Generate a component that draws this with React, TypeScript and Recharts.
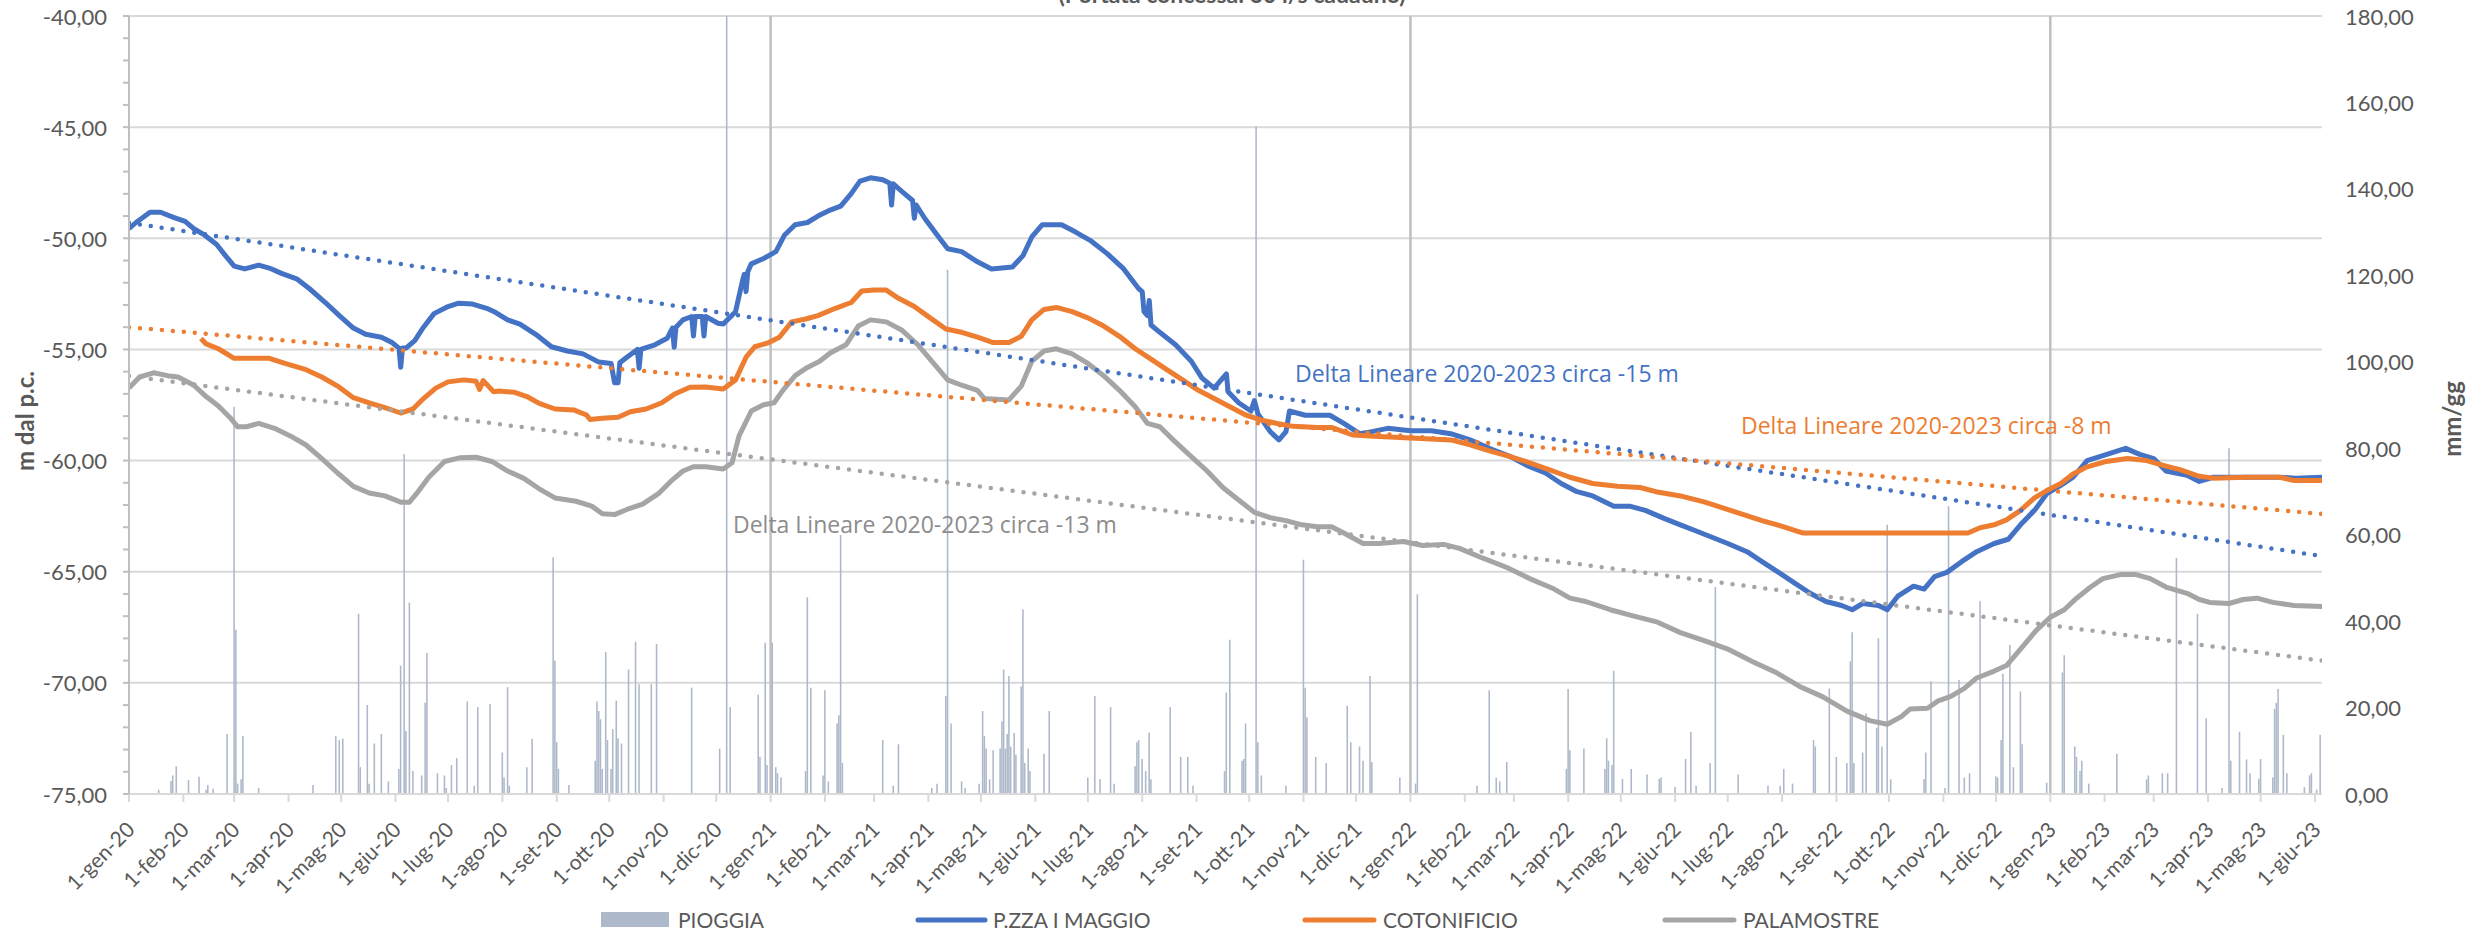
import React from 'react';
import { ComposedChart, Bar, Line, XAxis, YAxis, CartesianGrid } from 'recharts';

const W = 2471;
const H = 933;
const FONT = 'Lato, sans-serif';
const NOTE_FONT = '"Open Sans", sans-serif';
const TEXT = '#595959';

// x = days since 1-gen-20
const monthDays = [
  0, 31, 60, 91, 121, 152, 182, 213, 244, 274, 305, 335,
  366, 397, 425, 456, 486, 517, 547, 578, 609, 639, 670, 700,
  731, 762, 790, 821, 851, 882, 912, 943, 974, 1004, 1035, 1065,
  1096, 1127, 1155, 1186, 1216, 1247,
];
const monthLabels = [
  '1-gen-20', '1-feb-20', '1-mar-20', '1-apr-20', '1-mag-20', '1-giu-20', '1-lug-20', '1-ago-20', '1-set-20', '1-ott-20', '1-nov-20', '1-dic-20',
  '1-gen-21', '1-feb-21', '1-mar-21', '1-apr-21', '1-mag-21', '1-giu-21', '1-lug-21', '1-ago-21', '1-set-21', '1-ott-21', '1-nov-21', '1-dic-21',
  '1-gen-22', '1-feb-22', '1-mar-22', '1-apr-22', '1-mag-22', '1-giu-22', '1-lug-22', '1-ago-22', '1-set-22', '1-ott-22', '1-nov-22', '1-dic-22',
  '1-gen-23', '1-feb-23', '1-mar-23', '1-apr-23', '1-mag-23', '1-giu-23',
];
const yearDays = [366, 731, 1096];
const lastDay = 1251;

const leftTicks = [
  -75, -74, -73, -72, -71, -70, -69, -68, -67, -66, -65, -64, -63, -62, -61, -60, -59, -58,
  -57, -56, -55, -54, -53, -52, -51, -50, -49, -48, -47, -46, -45, -44, -43, -42, -41, -40,
];
const leftMajor = [-75, -70, -65, -60, -55, -50, -45, -40];
const rightTicks = [0, 20, 40, 60, 80, 100, 120, 140, 160, 180];

// [day, m dal p.c.]
const pzMaggio: [number, number][] = [
  [0, -49.57], [4, -49.29], [12, -48.83], [18, -48.83], [25, -49.05], [32, -49.24], [37, -49.57], [43, -49.85],
  [50, -50.28], [55, -50.78], [60, -51.25], [66, -51.38], [74, -51.21], [80, -51.34], [87, -51.58], [96, -51.84],
  [103, -52.27], [112, -52.89], [120, -53.48], [128, -54.04], [135, -54.32], [144, -54.45], [150, -54.69],
  [154, -54.94], [155, -55.8], [156, -54.94], [158, -54.94], [163, -54.6], [168, -54.0], [174, -53.39],
  [182, -53.07], [188, -52.92], [196, -52.96], [204, -53.15], [209, -53.33], [216, -53.67], [223, -53.86],
  [232, -54.32], [241, -54.88], [250, -55.07], [259, -55.2], [268, -55.57], [275, -55.63], [277, -56.5],
  [279, -56.5], [280, -55.6], [284, -55.35], [290, -55.0], [291, -55.85], [292, -55.0], [300, -54.79],
  [307, -54.5], [310, -54.04], [311, -54.9], [312, -54.0], [316, -53.67], [321, -53.52], [322, -54.4],
  [323, -53.52], [327, -53.52], [328, -54.4], [329, -53.52], [336, -53.82], [339, -53.86], [346, -53.3],
  [350, -51.9], [351, -51.62], [352, -52.4], [353, -51.5], [355, -51.15], [362, -50.91], [369, -50.6],
  [374, -49.85], [380, -49.39], [387, -49.29], [393, -49.0], [400, -48.73], [406, -48.55], [412, -47.99],
  [417, -47.43], [423, -47.28], [430, -47.37], [434, -47.52], [435, -48.5], [436, -47.55], [441, -47.9],
  [447, -48.3], [448, -49.1], [449, -48.5], [454, -49.11], [461, -49.85], [467, -50.47], [475, -50.6],
  [484, -51.06], [492, -51.38], [504, -51.29], [510, -50.78], [515, -49.94], [521, -49.39], [532, -49.39],
  [540, -49.72], [549, -50.13], [558, -50.69], [567, -51.34], [576, -52.27], [578, -52.4], [579, -53.3],
  [581, -53.48], [582, -52.8], [583, -53.9], [588, -54.23], [597, -54.79], [606, -55.53], [612, -56.28],
  [619, -56.74], [626, -56.1], [627, -56.9], [633, -57.4], [640, -57.77], [642, -57.3], [644, -57.9],
  [651, -58.7], [656, -59.07], [660, -58.7], [662, -57.77], [671, -57.96], [678, -57.96], [685, -57.96],
  [693, -58.33], [702, -58.79], [709, -58.7], [718, -58.55], [731, -58.66], [743, -58.66], [754, -58.79],
  [765, -59.07], [777, -59.48], [788, -59.82], [799, -60.28], [808, -60.56], [817, -61.03], [826, -61.4],
  [835, -61.59], [847, -62.05], [856, -62.05], [865, -62.24], [876, -62.61], [885, -62.89], [894, -63.17],
  [903, -63.45], [912, -63.73], [923, -64.1], [932, -64.57], [941, -65.03], [950, -65.5], [959, -65.97],
  [968, -66.34], [977, -66.52], [983, -66.71], [989, -66.43], [998, -66.52], [1003, -66.71], [1009, -66.1],
  [1018, -65.65], [1024, -65.78], [1030, -65.22], [1037, -65.03], [1045, -64.57], [1054, -64.1], [1064, -63.73],
  [1072, -63.54], [1079, -62.89], [1087, -62.24], [1094, -61.49], [1102, -61.12], [1109, -60.75], [1117, -60.0],
  [1126, -59.78], [1139, -59.45], [1147, -59.72], [1155, -59.91], [1162, -60.47], [1174, -60.66], [1181, -60.94],
  [1189, -60.75], [1200, -60.75], [1208, -60.75], [1227, -60.75], [1236, -60.79], [1251, -60.75],
];

const cotonificio: [number, number][] = [
  [41, -54.51], [44, -54.75], [51, -54.97], [60, -55.4], [69, -55.4], [80, -55.4], [89, -55.63], [101, -55.91],
  [110, -56.24], [119, -56.65], [128, -57.17], [137, -57.4], [146, -57.62], [155, -57.86], [162, -57.68],
  [168, -57.21], [175, -56.74], [182, -56.46], [191, -56.37], [198, -56.43], [200, -56.8], [202, -56.4],
  [205, -56.65], [208, -56.9], [211, -56.87], [220, -56.93], [227, -57.12], [234, -57.43], [243, -57.68],
  [254, -57.73], [261, -57.95], [263, -58.15], [270, -58.1], [279, -58.05], [286, -57.8], [295, -57.68],
  [304, -57.4], [311, -57.02], [320, -56.7], [329, -56.69], [339, -56.78], [346, -56.37], [352, -55.35],
  [357, -54.88], [365, -54.69], [371, -54.45], [378, -53.76], [386, -53.63], [393, -53.48], [403, -53.15],
  [412, -52.89], [418, -52.37], [425, -52.33], [432, -52.33], [439, -52.7], [448, -53.07], [457, -53.58],
  [466, -54.08], [475, -54.23], [484, -54.45], [493, -54.69], [502, -54.69], [509, -54.41], [515, -53.67],
  [522, -53.2], [529, -53.11], [538, -53.3], [547, -53.58], [556, -53.95], [565, -54.41], [574, -54.97],
  [583, -55.44], [592, -55.91], [601, -56.37], [610, -56.84], [619, -57.21], [628, -57.58], [637, -57.95],
  [646, -58.18], [655, -58.33], [664, -58.46], [678, -58.51], [686, -58.51], [698, -58.85], [713, -58.92],
  [731, -58.98], [754, -59.07], [765, -59.29], [777, -59.59], [788, -59.82], [799, -60.1], [810, -60.41],
  [822, -60.75], [835, -61.03], [849, -61.16], [862, -61.21], [871, -61.4], [885, -61.59], [899, -61.87],
  [910, -62.15], [921, -62.43], [932, -62.71], [944, -62.98], [955, -63.26], [1049, -63.26], [1056, -63.02],
  [1064, -62.89], [1071, -62.67], [1079, -62.24], [1087, -61.68], [1094, -61.35], [1102, -61.03], [1109, -60.6],
  [1117, -60.28], [1128, -60.04], [1140, -59.91], [1151, -60.0], [1161, -60.23], [1170, -60.41], [1181, -60.71],
  [1189, -60.79], [1208, -60.75], [1227, -60.75], [1235, -60.9], [1251, -60.9],
];

const palamostre: [number, number][] = [
  [0, -56.74], [6, -56.24], [14, -56.05], [22, -56.18], [28, -56.24], [37, -56.61], [44, -57.12], [51, -57.54],
  [58, -58.1], [62, -58.48], [67, -58.48], [74, -58.33], [83, -58.55], [92, -58.89], [101, -59.3], [110, -59.91],
  [119, -60.56], [128, -61.16], [137, -61.46], [146, -61.59], [155, -61.87], [160, -61.87], [164, -61.49],
  [171, -60.75], [180, -60.04], [189, -59.87], [198, -59.85], [207, -60.04], [216, -60.47], [225, -60.79],
  [234, -61.27], [243, -61.68], [255, -61.83], [264, -62.05], [270, -62.39], [277, -62.43], [284, -62.2],
  [293, -61.96], [302, -61.49], [309, -60.94], [316, -60.47], [322, -60.28], [329, -60.28], [339, -60.38],
  [344, -60.1], [348, -58.89], [355, -57.77], [362, -57.49], [368, -57.4], [373, -56.84], [380, -56.18],
  [387, -55.81], [394, -55.53], [400, -55.16], [409, -54.79], [416, -53.95], [423, -53.67], [432, -53.76],
  [441, -54.14], [450, -54.79], [459, -55.63], [467, -56.37], [475, -56.61], [484, -56.84], [488, -57.21],
  [502, -57.27], [509, -56.65], [515, -55.53], [522, -55.07], [529, -54.97], [538, -55.2], [547, -55.63],
  [556, -56.18], [565, -56.84], [574, -57.58], [581, -58.33], [588, -58.48], [597, -59.17], [606, -59.82],
  [615, -60.47], [624, -61.21], [633, -61.77], [642, -62.33], [651, -62.57], [660, -62.7], [669, -62.89],
  [678, -62.98], [686, -62.98], [693, -63.26], [704, -63.73], [713, -63.73], [727, -63.64], [738, -63.82],
  [750, -63.77], [759, -63.95], [772, -64.38], [786, -64.81], [799, -65.31], [813, -65.78], [822, -66.19],
  [831, -66.34], [845, -66.71], [858, -66.99], [872, -67.27], [885, -67.74], [899, -68.11], [912, -68.48],
  [926, -69.04], [939, -69.51], [953, -70.16], [966, -70.62], [980, -71.27], [993, -71.7], [1003, -71.86],
  [1011, -71.52], [1016, -71.18], [1026, -71.14], [1032, -70.81], [1039, -70.62], [1047, -70.25], [1054, -69.78],
  [1064, -69.47], [1071, -69.22], [1079, -68.48], [1088, -67.64], [1096, -67.05], [1104, -66.71], [1111, -66.19],
  [1119, -65.69], [1126, -65.31], [1136, -65.13], [1145, -65.13], [1153, -65.31], [1162, -65.69], [1174, -65.97],
  [1181, -66.25], [1187, -66.38], [1198, -66.43], [1206, -66.25], [1214, -66.19], [1223, -66.38], [1235, -66.52],
  [1251, -66.56],
];

// linear trend lines, end points
const trendPz: [number, number][] = [[0, -49.3], [1251, -64.3]];
const trendCo: [number, number][] = [[0, -54.0], [1251, -62.4]];
const trendPa: [number, number][] = [[0, -56.2], [1251, -69.0]];

// [day, mm/gg]
const pioggia: [number, number][] = [
  [17, 1], [24, 3], [25, 4.3], [27, 6.4], [34, 3.2], [40, 4], [44, 1], [45, 2.1], [48, 1.2], [56, 13.9],
  [60, 89.6], [61, 38], [62, 2.4], [64, 3.4], [65, 13.4], [74, 1.4], [105, 2.1], [118, 13.4], [120, 12.5],
  [122, 12.8], [131, 41.7], [132, 6.2], [136, 20.6], [137, 2.4], [140, 11.7], [144, 13.9], [148, 2.9],
  [154, 5.8], [155, 29.7], [157, 78.6], [158, 14.6], [160, 44.3], [162, 5.3], [167, 4.3], [169, 21.1],
  [170, 32.6], [176, 4.8], [180, 4.3], [181, 1.4], [184, 6.7], [187, 8.3], [193, 21.4], [197, 1.9],
  [199, 20.1], [206, 20.8], [213, 9.6], [214, 3.8], [216, 24.7], [217, 1.9], [227, 6.2], [230, 12.8],
  [242, 54.8], [243, 30.9], [244, 12], [245, 5.8], [251, 2.1], [266, 7.7], [267, 21.4], [268, 19.2],
  [269, 17.3], [270, 5.8], [272, 32.8], [273, 12.5], [275, 5.8], [276, 15], [278, 21.6], [279, 12.9],
  [281, 11.7], [285, 28.8], [289, 35.2], [291, 25.4], [298, 25.4], [301, 34.7], [321, 24.6], [337, 10.5],
  [341, 180], [343, 20.1], [359, 23], [360, 8.6], [363, 35], [364, 6.7], [367, 35], [369, 6.2], [370, 4.8],
  [372, 3.8], [386, 5.3], [387, 45.5], [389, 24.6], [396, 4.3], [397, 24], [399, 2.9], [404, 16.3],
  [405, 18.2], [406, 59.9], [407, 7.2], [430, 12.5], [436, 1.9], [439, 11.5], [458, 1.4], [461, 2.4],
  [466, 22.7], [467, 121.3], [469, 16.3], [475, 2.9], [477, 1.4], [485, 2.4], [487, 19.2], [488, 13.4],
  [489, 10.5], [491, 3.4], [493, 10.1], [497, 10.5], [498, 16.8], [499, 28.8], [500, 10.5], [501, 13.9],
  [502, 27.3], [503, 11], [505, 14.1], [506, 9.1], [509, 24.9], [510, 42.7], [511, 7.2], [513, 10.5],
  [514, 5.3], [522, 9.3], [525, 19.2], [547, 3.8], [551, 22.7], [554, 3.4], [560, 20.1], [562, 2.4],
  [574, 6.4], [575, 12], [576, 12.5], [578, 8.1], [580, 5.3], [582, 14.2], [583, 3.4], [594, 20.1],
  [600, 8.6], [604, 8.6], [607, 1.9], [625, 5.3], [626, 23.5], [628, 35.7], [635, 7.7], [636, 8.1],
  [637, 16.3], [643, 154.5], [644, 12], [646, 4.3], [660, 1.9], [670, 54.2], [671, 24.6], [672, 17.7],
  [677, 8.6], [683, 7.2], [695, 20.4], [697, 12], [702, 11], [704, 7.7], [708, 27.3], [709, 7.4],
  [725, 3.8], [734, 2.4], [735, 46.2], [769, 1.9], [776, 24], [780, 3.8], [782, 2.9], [786, 7.4],
  [820, 5.8], [821, 24.3], [822, 10.1], [830, 10.5], [842, 5.8], [843, 12.9], [844, 7.7], [846, 6.7],
  [847, 28.5], [852, 3.5], [857, 5.8], [866, 4.5], [873, 3.5], [874, 3.8], [882, 1.6], [888, 8.1],
  [891, 14.4], [894, 1.9], [902, 7.2], [905, 47.9], [918, 4.5], [935, 1.9], [942, 1.9], [944, 5.8],
  [949, 2.4], [961, 12.5], [962, 11], [970, 24.4], [974, 8.6], [980, 7.2], [982, 30.7], [983, 37.4],
  [984, 7.2], [989, 9.6], [991, 18.7], [997, 15.3], [998, 36], [1000, 11], [1003, 62.3], [1005, 3.4],
  [1024, 3.4], [1025, 9.6], [1028, 26.1], [1036, 1.4], [1038, 66.6], [1044, 26.4], [1047, 3.8], [1050, 4.8],
  [1056, 44.6], [1065, 4.1], [1066, 3.8], [1068, 12.5], [1069, 27.8], [1073, 34.5], [1075, 6.2], [1079, 23.7],
  [1080, 11.5], [1094, 2.6], [1103, 28.1], [1104, 32.1], [1110, 11], [1111, 8.6], [1113, 5.3], [1114, 7.7],
  [1118, 2.4], [1134, 9.3], [1151, 3.4], [1152, 4.3], [1160, 4.8], [1163, 4.8], [1168, 54.6], [1180, 41.7],
  [1185, 17.5], [1194, 1.4], [1198, 80], [1199, 7.7], [1204, 14.4], [1208, 8], [1210, 4.8], [1215, 3.5],
  [1216, 8.1], [1223, 3.8], [1224, 19.7], [1225, 21.1], [1226, 24.3], [1229, 13.7], [1231, 4.8], [1241, 1.6],
  [1244, 4.3], [1245, 4.8], [1248, 1], [1250, 13.7],
];

function buildRows() {
  const map = new Map<number, Record<string, number>>();
  const put = (arr: [number, number][], key: string) => {
    for (const [d, v] of arr) {
      const row = map.get(d) || { d };
      row[key] = v;
      map.set(d, row);
    }
  };
  put(pioggia, 'rain');
  put(pzMaggio, 'pz');
  put(cotonificio, 'co');
  put(palamostre, 'pa');
  put(trendPz, 'tPz');
  put(trendCo, 'tCo');
  put(trendPa, 'tPa');
  return Array.from(map.values()).sort((a, b) => a.d - b.d);
}

const rows = buildRows();

const comma = (v: number) => v.toFixed(2).replace('.', ',');

const DateTick = (props: any) => {
  const { x, y, payload } = props;
  const i = monthDays.indexOf(payload.value);
  const ax = x + 1;
  const ay = y + 21;
  return (
    <text
      x={ax}
      y={ay}
      transform={`rotate(-45, ${ax}, ${ay})`}
      textAnchor="end"
      dominantBaseline="central"
      fontFamily={FONT}
      fontSize={21}
      fill={TEXT}
    >
      {monthLabels[i]}
    </text>
  );
};

const LeftTick = (props: any) => {
  const { x, y, payload } = props;
  if (payload.value % 5 !== 0) return <g />;
  return (
    <text x={x} y={y} textAnchor="end" dominantBaseline="central" fontFamily={FONT} fontSize={22} fill={TEXT}>
      {comma(payload.value)}
    </text>
  );
};

const RightTick = (props: any) => {
  const { x, y, payload } = props;
  return (
    <text x={x} y={y} textAnchor="start" dominantBaseline="central" fontFamily={FONT} fontSize={22} fill={TEXT}>
      {comma(payload.value)}
    </text>
  );
};

const legendItems = [
  { label: 'PIOGGIA', color: '#adb9ca', kind: 'bar', x0: 601, x1: 669, tx: 678 },
  { label: 'P.ZZA I MAGGIO', color: '#4472c4', kind: 'line', x0: 918, x1: 985, tx: 993 },
  { label: 'COTONIFICIO', color: '#ed7d31', kind: 'line', x0: 1305, x1: 1374, tx: 1383 },
  { label: 'PALAMOSTRE', color: '#a5a5a5', kind: 'line', x0: 1665, x1: 1734, tx: 1743 },
];

const notes = [
  { text: 'Delta Lineare 2020-2023 circa -15 m', color: '#4472c4', x: 1295, y: 382 },
  { text: 'Delta Lineare 2020-2023 circa -8 m', color: '#ed7d31', x: 1741, y: 434 },
  { text: 'Delta Lineare 2020-2023 circa -13 m', color: '#8c8c8c', x: 733, y: 533 },
];

export default function App() {
  return (
    <div style={{ position: 'absolute', left: 0, top: 0, width: W, height: H, background: '#fff', overflow: 'hidden' }}>
      <ComposedChart width={W} height={H} data={rows} margin={{ top: 16, right: 0, bottom: 0, left: 0 }}>
        <CartesianGrid yAxisId="left" vertical={false} horizontalValues={leftMajor} stroke="#d9d9d9" strokeWidth={2} />
        <CartesianGrid yAxisId="left" horizontal={false} verticalValues={yearDays} stroke="#bfbfbf" strokeWidth={2.5} />
        <XAxis
          type="number"
          dataKey="d"
          domain={[0, lastDay]}
          ticks={monthDays}
          interval={0}
          allowDataOverflow
          height={139}
          tick={<DateTick />}
          tickSize={8}
          tickLine={{ stroke: '#d9d9d9', strokeWidth: 2 }}
          axisLine={{ stroke: '#d9d9d9', strokeWidth: 2 }}
        />
        <YAxis
          yAxisId="left"
          orientation="left"
          width={129}
          domain={[-75, -40]}
          ticks={leftTicks}
          interval={0}
          allowDataOverflow
          tick={<LeftTick />}
          tickSize={6}
          tickMargin={16}
          tickLine={{ stroke: '#bfbfbf', strokeWidth: 2 }}
          axisLine={{ stroke: '#bfbfbf', strokeWidth: 2 }}
        />
        <YAxis
          yAxisId="right"
          orientation="right"
          width={149}
          domain={[0, 180]}
          ticks={rightTicks}
          interval={0}
          allowDataOverflow
          tick={<RightTick />}
          tickSize={0}
          tickMargin={23}
          tickLine={false}
          axisLine={false}
        />
        <Bar yAxisId="right" dataKey="rain" fill="#adb9ca" barSize={3} isAnimationActive={false} />
        <Line yAxisId="left" type="linear" dataKey="pz" stroke="#4472c4" strokeWidth={5} dot={false} connectNulls strokeLinejoin="round" isAnimationActive={false} />
        <Line yAxisId="left" type="linear" dataKey="co" stroke="#ed7d31" strokeWidth={5} dot={false} connectNulls strokeLinejoin="round" isAnimationActive={false} />
        <Line yAxisId="left" type="linear" dataKey="pa" stroke="#a5a5a5" strokeWidth={5} dot={false} connectNulls strokeLinejoin="round" isAnimationActive={false} />
        <Line yAxisId="left" type="linear" dataKey="tPz" stroke="#4472c4" strokeWidth={4.5} strokeDasharray="0 11" strokeLinecap="round" dot={false} connectNulls isAnimationActive={false} />
        <Line yAxisId="left" type="linear" dataKey="tCo" stroke="#ed7d31" strokeWidth={4.5} strokeDasharray="0 11" strokeLinecap="round" dot={false} connectNulls isAnimationActive={false} />
        <Line yAxisId="left" type="linear" dataKey="tPa" stroke="#a5a5a5" strokeWidth={4.5} strokeDasharray="0 11" strokeLinecap="round" dot={false} connectNulls isAnimationActive={false} />
      </ComposedChart>

      <svg width={W} height={H} style={{ position: 'absolute', left: 0, top: 0, pointerEvents: 'none' }}>
        <text x={1232} y={3} textAnchor="middle" fontFamily={FONT} fontWeight="bold" fontSize={23} fill={TEXT}>
          (Portata concessa: 30 l/s cadauno)
        </text>
        <text x={24} y={421} transform="rotate(-90, 24, 421)" textAnchor="middle" dominantBaseline="central" fontFamily={FONT} fontWeight="bold" fontSize={24} fill={TEXT}>
          m dal p.c.
        </text>
        <text x={2451} y={419} transform="rotate(-90, 2451, 419)" textAnchor="middle" dominantBaseline="central" fontFamily={FONT} fontWeight="bold" fontSize={24} fill={TEXT}>
          mm/gg
        </text>
        {notes.map((n) => (
          <text key={n.text} x={n.x} y={n.y} fontFamily={NOTE_FONT} fontSize={23} fill={n.color}>
            {n.text}
          </text>
        ))}
        {legendItems.map((it) => (
          <g key={it.label}>
            {it.kind === 'bar' ? (
              <rect x={it.x0} y={912} width={it.x1 - it.x0} height={15} fill={it.color} />
            ) : (
              <line x1={it.x0} x2={it.x1} y1={920} y2={920} stroke={it.color} strokeWidth={5} strokeLinecap="round" />
            )}
            <text x={it.tx} y={928} fontFamily={FONT} fontSize={21} fill={TEXT}>
              {it.label}
            </text>
          </g>
        ))}
      </svg>
    </div>
  );
}
